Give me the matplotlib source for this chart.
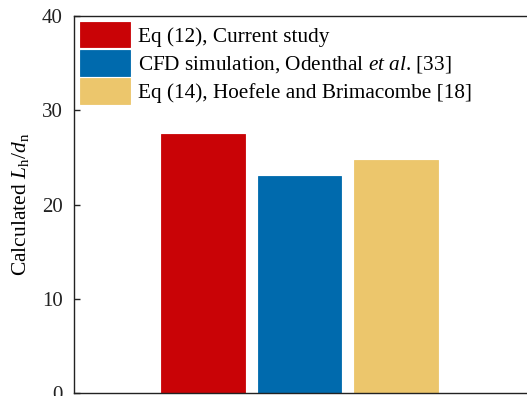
import matplotlib
matplotlib.use("Agg")
from matplotlib import pyplot as plt

labels = [
    "Eq (12), Current study",
    "CFD simulation, Odenthal $\\it{et\\ al}$. [33]",
    "Eq (14), Hoefele and Brimacombe [18]",
]
values = [27.5, 23.0, 24.7]
colors = ["#C90306", "#006AAD", "#ECC66C"]
positions = [1, 2, 3]
yticks = [0, 10, 20, 30, 40]

plt.rcParams["font.family"] = "Liberation Serif"
plt.rcParams["mathtext.fontset"] = "custom"
plt.rcParams["mathtext.rm"] = "Liberation Serif"
plt.rcParams["mathtext.it"] = "Liberation Serif:italic"

fig = plt.figure(figsize=(5.27, 3.96), dpi=100)
ax = fig.add_axes([74 / 527, 3 / 396, (560 - 74) / 527, 377 / 396])

for x, v, c, lab in zip(positions, values, colors, labels):
    ax.bar(x, v, width=0.87, color=c, edgecolor=c, linewidth=0.6, label=lab)

ax.set_xlim(-0.337, 4.7)
ax.set_ylim(0, 40)
ax.set_yticks(yticks)
ax.set_xticks([])
ax.tick_params(axis="y", direction="in", length=4, width=1, labelsize=15, colors="#222222", pad=8)
for s in ax.spines.values():
    s.set_linewidth(1.0)
    s.set_color("#222222")

ax.set_ylabel("Calculated $L_\\mathrm{h}/d_\\mathrm{n}$", fontsize=15.5)
ax.yaxis.set_label_coords(-0.0885, 0.5)

ax.legend(loc="upper left", bbox_to_anchor=(0.0123, 0.984), frameon=False, fontsize=15.3,
          handlelength=2.35, handleheight=1.46, labelspacing=0.13,
          handletextpad=0.37, borderaxespad=0, borderpad=0)

fig.savefig("out.png", dpi=100)
